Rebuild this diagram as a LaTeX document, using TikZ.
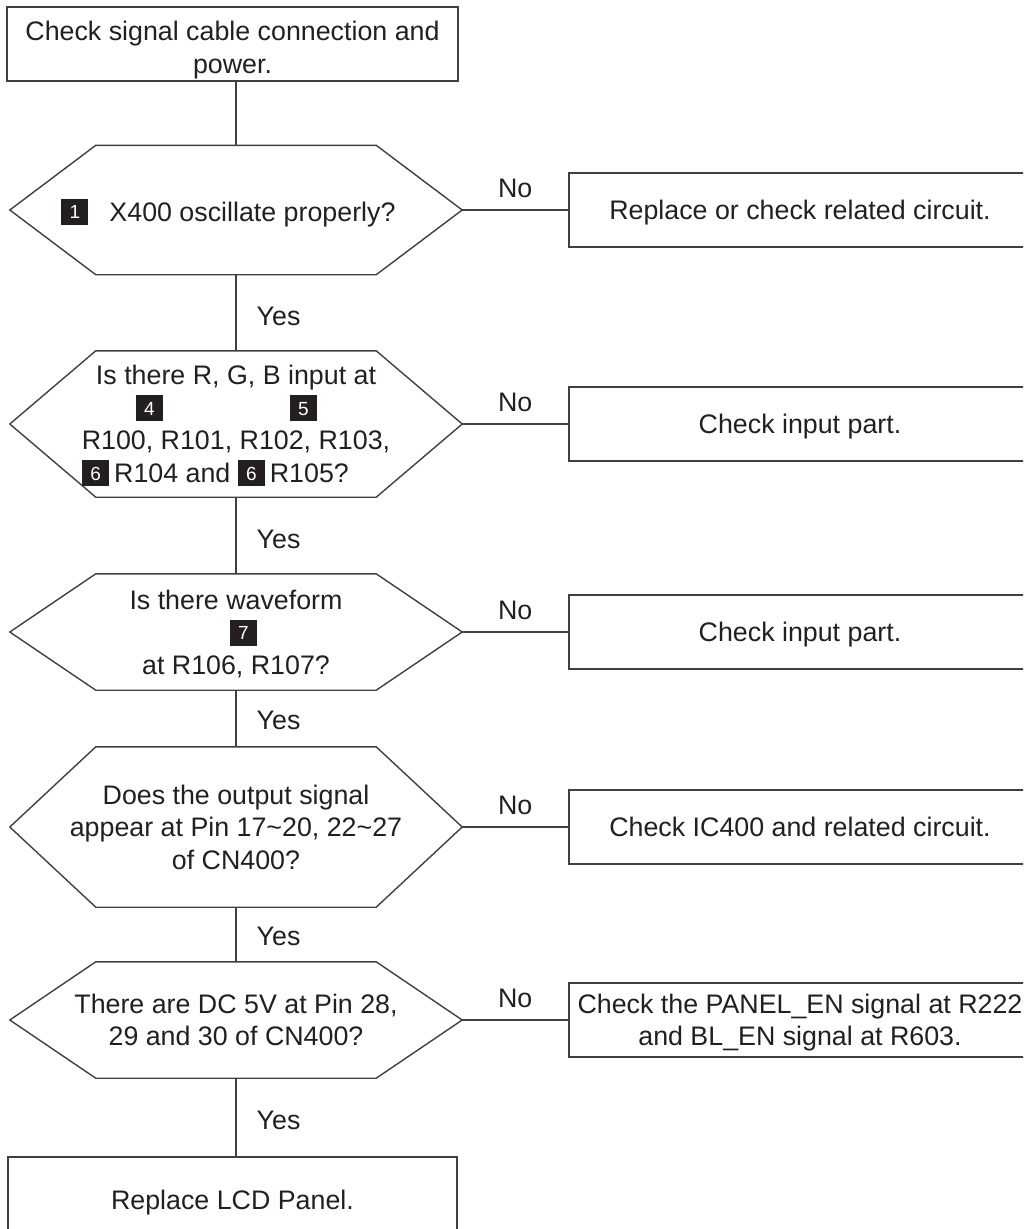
\documentclass[tikz,border=0pt]{standalone}
\usepackage{fontspec}
\setmainfont{Liberation Sans}
\usetikzlibrary{positioning,calc}

\definecolor{ink}{HTML}{231F20}
\definecolor{wire}{HTML}{404040}
\newcommand{\mk}[1]{{\setlength{\fboxsep}{0pt}\colorbox{ink}{\makebox[27pt]{\rule[-4pt]{0pt}{26pt}\raisebox{2.3pt}{\fontsize{19}{19}\selectfont\color{white}#1}}}}}

\tikzset{
  box/.style={draw=wire, line width=1.4pt, text=ink, align=center, inner sep=0pt, text depth=0pt},
  ask/.style={text=ink, align=center, inner sep=0pt, minimum width=452pt, text depth=0pt},
  lbl/.style={text=ink, inner sep=0pt},
  wireline/.style={draw=wire, line width=1.4pt},
}

\begin{document}
\begin{tikzpicture}[x=1pt, y=-1pt, font=\fontsize{26.8}{32.5}\selectfont]
\useasboundingbox (0,0) rectangle (1023,1229);
\clip (0,0) rectangle (1023,1229);

% questions down the left
\node[box, minimum width=451pt, minimum height=74pt] (start) at (232.5,44) {\rule{0pt}{26pt}Check signal cable connection and\\power.};
\node[ask, minimum height=129pt] (q1) at (236,210) {\mk{1}\hspace{21pt}X400 oscillate properly?\hspace{15pt}\null};
\node[ask, minimum height=146pt] (q2) at (236,424) {Is there R, G, B input at\\
  \mk{4}\hspace{127pt}\mk{5}\hspace{19pt}\null\\
  R100, R101, R102, R103,\\
  \mk{6}\hspace{5pt}R104 and \mk{6}\hspace{5pt}R105?\hspace{41pt}\null};
\node[ask, minimum height=116pt] (q3) at (236,632) {Is there waveform\\ \null\hspace{15pt}\mk{7}\\ at R106, R107?};
\node[ask, minimum height=160pt] (q4) at (236,827) {Does the output signal\\appear at Pin 17\textasciitilde20, 22\textasciitilde27\\of CN400?};
\node[ask, minimum height=116pt] (q5) at (236,1020) {There are DC 5V at Pin 28,\\29 and 30 of CN400?};
\node[box, minimum width=449pt, minimum height=86pt] (done) at (232.5,1200) {Replace LCD Panel.};

% answers on the right
\node[box, minimum width=462pt, minimum height=74pt] (r1) at (800,210) {Replace or check related circuit.};
\node[box, minimum width=462pt, minimum height=74pt] (r2) at (800,424) {Check input part.};
\node[box, minimum width=462pt, minimum height=74pt] (r3) at (800,632) {Check input part.};
\node[box, minimum width=462pt, minimum height=74pt] (r4) at (800,827) {Check IC400 and related circuit.};
\node[box, minimum width=462pt, minimum height=74pt] (r5) at (800,1020) {Check the PANEL\_EN signal at R222\\and BL\_EN signal at R603.};

% hexagon outlines
\foreach \q in {q1,q2,q3,q4,q5}
  \draw[wireline] (\q.west) -- ($(\q.north west)+(86,0)$) -- ($(\q.north east)+(-86,0)$) -- (\q.east)
    -- ($(\q.south east)+(-86,0)$) -- ($(\q.south west)+(86,0)$) -- cycle;

% yes path
\draw[wireline] (start.south -| q1.north) -- (q1.north);
\draw[wireline] (q1.south) -- node[lbl, right=20pt, yshift=-4pt] (y1) {Yes} (q2.north);
\draw[wireline] (q2.south) -- node[lbl, right=20pt, yshift=-4pt] (y2) {Yes} (q3.north);
\draw[wireline] (q3.south) -- node[lbl, right=20pt, yshift=-2pt] (y3) {Yes} (q4.north);
\draw[wireline] (q4.south) -- node[lbl, right=20pt, yshift=-2pt] (y4) {Yes} (q5.north);
\draw[wireline] (q5.south) -- node[lbl, right=20pt, yshift=-3pt] (y5) {Yes} (q5.south |- done.north);

% no path
\foreach \i in {1,...,5}
  \draw[wireline] (q\i.east) -- node[lbl, above=12pt] (n\i) {No} (r\i.west);
\end{tikzpicture}
\end{document}
